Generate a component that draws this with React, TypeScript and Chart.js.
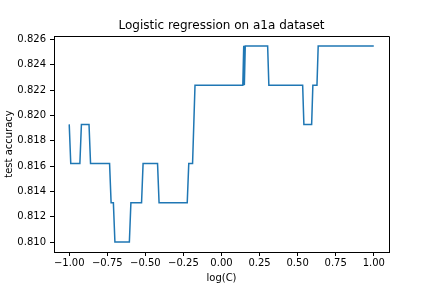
import React, { useEffect, useRef } from "react";
import { Chart, registerables } from "chart.js";

Chart.register(...registerables);

// step-line turning points
const logC = [
  -1.0, -0.99, -0.93, -0.92, -0.87, -0.86, -0.735, -0.725, -0.71, -0.7,
  -0.605, -0.595, -0.525, -0.515, -0.42, -0.41, -0.225, -0.215, -0.19, -0.182,
  -0.174, 0.14, 0.146, 0.15, 0.156, 0.303, 0.311, 0.533, 0.541, 0.592,
  0.6, 0.627, 0.635, 1.0,
];
const accuracy = [
  0.8193, 0.8162, 0.8162, 0.8193, 0.8193, 0.8162, 0.8162, 0.8131, 0.8131, 0.81,
  0.81, 0.8131, 0.8131, 0.8162, 0.8162, 0.8131, 0.8131, 0.8162, 0.8162, 0.8193,
  0.8224, 0.8224, 0.8255, 0.8224, 0.8255, 0.8255, 0.8224, 0.8224, 0.8193, 0.8193,
  0.8224, 0.8224, 0.8255, 0.8255,
];
const xTicks = [-1.0, -0.75, -0.5, -0.25, 0.0, 0.25, 0.5, 0.75, 1.0];
const yTicks = [0.81, 0.812, 0.814, 0.816, 0.818, 0.82, 0.822, 0.824, 0.826];
const titleText = "Logistic regression on a1a dataset";
const xLabel = "log(C)";
const yLabel = "test accuracy";

const FONT = "'DejaVu Sans', sans-serif";

export default function App() {
  const ref = useRef<HTMLCanvasElement>(null);

  useEffect(() => {
    document.body.style.margin = "0";
    const canvas = ref.current;
    if (!canvas) return;

    const framePlugin = {
      id: "frame",
      afterDraw(chart: any) {
        const { ctx, chartArea: a } = chart;
        ctx.save();
        ctx.strokeStyle = "#000";
        ctx.lineWidth = 1;
        ctx.beginPath();
        ctx.moveTo(Math.round(a.left) + 0.5, Math.round(a.top) + 0.5);
        ctx.lineTo(Math.round(a.right) + 0.5, Math.round(a.top) + 0.5);
        ctx.lineTo(Math.round(a.right) + 0.5, Math.round(a.bottom) + 0.5);
        ctx.stroke();
        ctx.restore();
      },
    };

    const chart = new Chart(canvas, {
      type: "scatter",
      data: {
        datasets: [
          {
            data: logC.map((x, i) => ({ x, y: accuracy[i] })),
            showLine: true,
            borderColor: "#1f77b4",
            backgroundColor: "#1f77b4",
            borderWidth: 1.5,
            pointRadius: 0,
            pointHoverRadius: 0,
            tension: 0,
          },
        ],
      },
      options: {
        responsive: false,
        animation: false,
        devicePixelRatio: 1,
        color: "#000",
        font: { family: FONT, size: 10 },
        layout: { padding: { left: 0, right: 43, top: 0, bottom: 0 } },
        plugins: {
          legend: { display: false },
          tooltip: { enabled: false },
          title: {
            display: true,
            fullSize: false,
            text: titleText,
            color: "#000",
            font: { family: FONT, size: 12, weight: "normal", lineHeight: 1.2 },
            padding: { top: 18.5, bottom: 3.1 },
          },
        },
        scales: {
          x: {
            type: "linear",
            min: -1.1,
            max: 1.1,
            afterFit(scale: any) {
              scale.height = 36;
            },
            afterBuildTicks(scale: any) {
              scale.ticks = xTicks.map((v) => ({ value: v }));
            },
            ticks: {
              color: "#000",
              font: { family: FONT, size: 10 },
              padding: 1,
              maxRotation: 0,
              autoSkip: false,
              callback: (v: any) =>
                (Number(v) < 0 ? "\u2212" : "") + Math.abs(Number(v)).toFixed(2),
            },
            grid: {
              drawOnChartArea: false,
              drawTicks: true,
              tickLength: 4,
              tickColor: "#000",
              tickWidth: 1,
            },
            border: { display: true, color: "#000", width: 1 },
            title: {
              display: true,
              text: xLabel,
              color: "#000",
              font: { family: FONT, size: 10, lineHeight: 1.2 },
              padding: { top: 0, bottom: 4 },
            },
          },
          y: {
            type: "linear",
            min: 0.80922,
            max: 0.82628,
            afterFit(scale: any) {
              scale.width = 54;
            },
            afterBuildTicks(scale: any) {
              scale.ticks = yTicks.map((v) => ({ value: v }));
            },
            ticks: {
              color: "#000",
              font: { family: FONT, size: 10 },
              padding: 4,
              autoSkip: false,
              callback: (v: any) => Number(v).toFixed(3),
            },
            grid: {
              drawOnChartArea: false,
              drawTicks: true,
              tickLength: 4,
              tickColor: "#000",
              tickWidth: 1,
            },
            border: { display: true, color: "#000", width: 1 },
            title: {
              display: true,
              text: yLabel,
              color: "#000",
              font: { family: FONT, size: 10, lineHeight: 1.2 },
              padding: { top: 3, bottom: 0 },
            },
          },
        },
      },
      plugins: [framePlugin],
    } as any);

    return () => chart.destroy();
  }, []);

  return (
    <div style={{ position: "absolute", left: 0, top: 0, width: 432, height: 288, background: "#fff" }}>
      <canvas ref={ref} width={432} height={288} style={{ width: 432, height: 288 }} />
    </div>
  );
}
